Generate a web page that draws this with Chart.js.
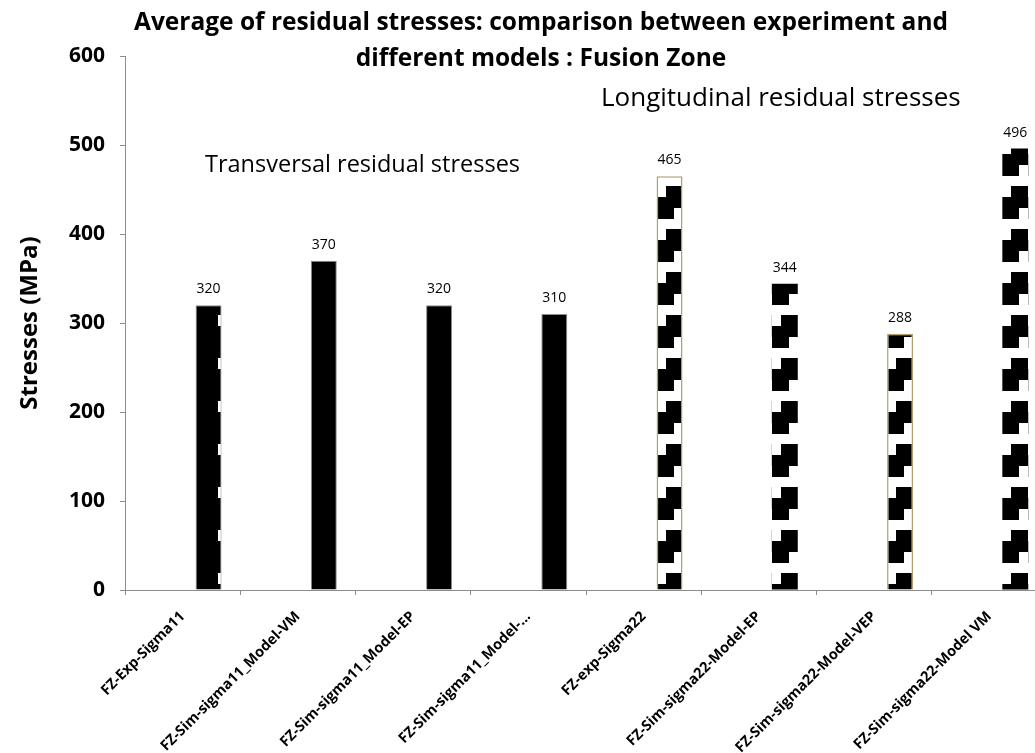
<!DOCTYPE html>
<html>
<head>
<meta charset="utf-8">
<script src="https://cdn.jsdelivr.net/npm/chart.js@4.4.1/dist/chart.umd.min.js"></script>
<style>
    html, body { margin: 0; padding: 0; background: #fff; overflow: hidden; }
    #wrap { width: 1035px; height: 753px; overflow: hidden; }
    canvas { display: block; }
</style>
</head>
<body>
<div id="wrap"><canvas id="chart" width="1050" height="753"></canvas></div>
<script>
// Данные
const categories = [
    'FZ-Exp-Sigma11',
    'FZ-Sim-sigma11_Model-VM',
    'FZ-Sim-sigma11_Model-EP',
    'FZ-Sim-sigma11_Model-...',
    'FZ-exp-Sigma22',
    'FZ-Sim-sigma22-Model-EP',
    'FZ-Sim-sigma22-Model-VEP',
    'FZ-Sim-sigma22-Model VM'
];
const stresses = [320, 370, 320, 310, 465, 344, 288, 496];
const emptySeries = [null, null, null, null, null, null, null, null];
const yTicks = [0, 100, 200, 300, 400, 500, 600];

const titleLines = ['Average of residual stresses: comparison between experiment and', 'different models : Fusion Zone'];
const FONT = "'Open Sans', sans-serif";

// заливка каждого столбца
const barFills = ['notch', 'solid', 'solid', 'solid', 'zigzag', 'zigzag', 'zigzag', 'zigzag'];
const PERIOD = 43;

function zigzagTile(w) {
    const c = document.createElement('canvas');
    c.width = w;
    c.height = PERIOD;
    const g = c.getContext('2d');
    const half = Math.round(w * 0.35);
    g.fillStyle = '#fff';
    g.fillRect(0, 0, w, PERIOD);
    g.fillStyle = '#000';
    g.fillRect(half, 0, w - half, 11);
    g.fillRect(0, 11, w, 11);
    g.fillRect(0, 22, w - half, 11);
    return c;
}

function notchTile(w) {
    const c = document.createElement('canvas');
    c.width = w;
    c.height = PERIOD;
    const g = c.getContext('2d');
    g.fillStyle = '#000';
    g.fillRect(0, 0, w, PERIOD);
    g.fillStyle = '#fff';
    g.fillRect(w - 4, 0, 4, 11);
    return c;
}

const patternPlugin = {
    id: 'barPatterns',
    beforeDatasetsDraw(chart) {
        const meta = chart.getDatasetMeta(1);
        meta.data.forEach((bar, i) => {
            if (barFills[i] === 'solid') return;
            const w = Math.round(bar.width);
            const tile = barFills[i] === 'notch' ? notchTile(w) : zigzagTile(w);
            const p = chart.ctx.createPattern(tile, 'repeat');
            p.setTransform(new DOMMatrix().translate(Math.round(bar.x - bar.width / 2), 14));
            bar.options = Object.assign({}, bar.options, { backgroundColor: p });
        });
    }
};

const labelsPlugin = {
    id: 'valueLabels',
    afterDatasetsDraw(chart) {
        const ctx = chart.ctx;
        const meta = chart.getDatasetMeta(1);
        ctx.save();
        ctx.fillStyle = '#000';
        ctx.font = `14px ${FONT}`;
        ctx.textAlign = 'center';
        ctx.textBaseline = 'alphabetic';
        meta.data.forEach((bar, i) => {
            ctx.fillText(String(stresses[i]), bar.x, bar.y - 12);
        });
        ctx.restore();
    }
};

const textPlugin = {
    id: 'texts',
    afterDraw(chart) {
        const ctx = chart.ctx;
        ctx.save();
        ctx.fillStyle = '#000';
        ctx.textBaseline = 'middle';
        ctx.textAlign = 'center';
        ctx.font = `bold 24.5px ${FONT}`;
        ctx.fillText(titleLines[0], 541, 23);
        ctx.fillText(titleLines[1], 541, 59);

        ctx.textAlign = 'left';
        ctx.font = `23.5px ${FONT}`;
        ctx.fillText('Transversal residual stresses', 205, 165);
        ctx.font = `26px ${FONT}`;
        ctx.fillText('Longitudinal residual stresses', 601, 99);
        ctx.restore();
    }
};

const ctx = document.getElementById('chart').getContext('2d');
const chart = new Chart(ctx, {
    type: 'bar',
    data: {
        labels: categories,
        datasets: [
            {
                label: 'empty',
                data: emptySeries,
                backgroundColor: '#000'
            },
            {
                label: 'Stresses',
                data: stresses,
                backgroundColor: ['#000', '#000', '#000', '#000', '#fff', '#fff', '#fff', '#fff'],
                borderColor: ['#8c8c8c', '#8c8c8c', '#8c8c8c', '#8c8c8c', '#b0a070', '#fff', '#b0a070', '#fff'],
                borderWidth: [1, 1, 1, 1, 1.5, 0, 1.5, 0]
            }
        ]
    },
    options: {
        responsive: false,
        animation: false,
        categoryPercentage: 0.9,
        barPercentage: 0.5,
        layout: { padding: { top: 56, right: 3, left: 0, bottom: 0 } },
        plugins: {
            legend: { display: false },
            tooltip: { enabled: false },
            title: { display: false }
        },
        scales: {
            x: {
                afterFit: (s) => { s.height = 163; },
                grid: {
                    offset: true,
                    drawOnChartArea: false,
                    drawTicks: true,
                    tickLength: 5,
                    color: '#8c8c8c'
                },
                border: { color: '#8c8c8c', width: 1 },
                ticks: {
                    autoSkip: false,
                    minRotation: 45,
                    maxRotation: 45,
                    padding: 13,
                    color: '#000',
                    font: { family: FONT, size: 14.5, weight: 'bold' }
                }
            },
            y: {
                min: 0,
                max: 600,
                afterFit: (s) => { s.width = 125; },
                afterBuildTicks: (s) => { s.ticks = yTicks.map(v => ({ value: v })); },
                grid: {
                    drawOnChartArea: false,
                    drawTicks: true,
                    tickLength: 5,
                    color: '#8c8c8c'
                },
                border: { color: '#8c8c8c', width: 1 },
                ticks: {
                    padding: 15,
                    color: '#000',
                    font: { family: FONT, size: 21, weight: 'bold' }
                },
                title: {
                    display: true,
                    text: 'Stresses (MPa)',
                    color: '#000',
                    padding: { top: 16, bottom: 0 },
                    font: { family: FONT, size: 24, weight: 'bold' }
                }
            }
        }
    },
    plugins: [patternPlugin, labelsPlugin, textPlugin]
});
</script>
</body>
</html>
